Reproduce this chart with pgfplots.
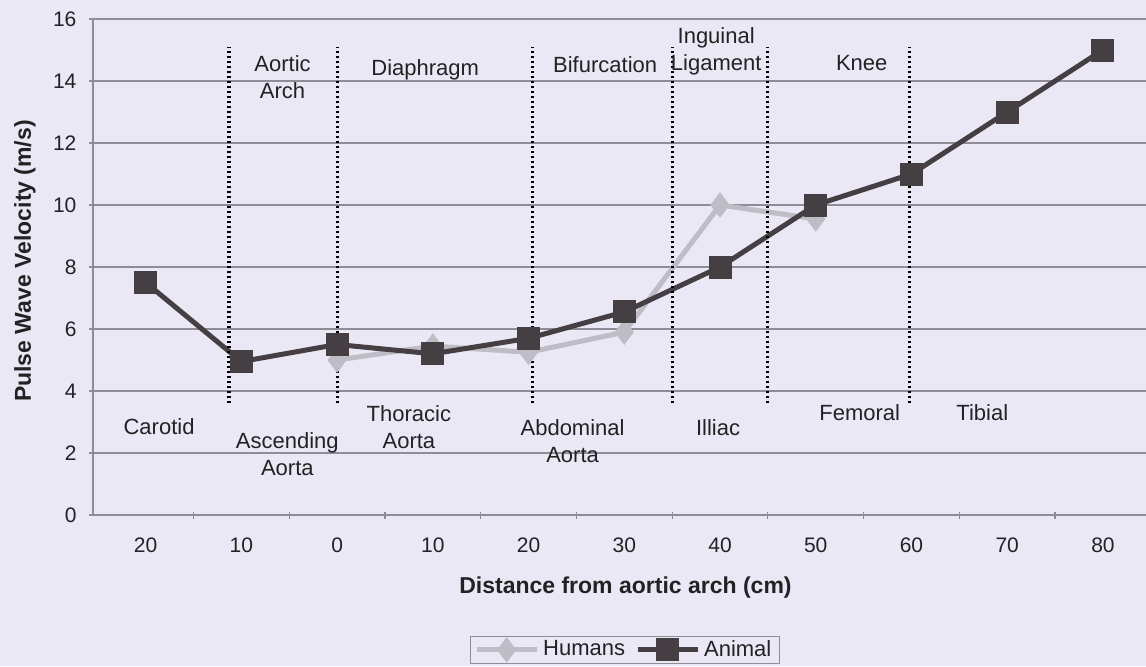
\documentclass[border=0pt]{standalone}
\usepackage{fontspec}
\setmainfont{Liberation Sans}
\usepackage{pgfplots}
\pgfplotsset{compat=1.18}
\definecolor{pagebg}{HTML}{E9E8F4}
\definecolor{gridc}{HTML}{8E8C95}
\definecolor{animalc}{HTML}{453E42}
\definecolor{humanc}{HTML}{BEBDC5}
\definecolor{txtc}{HTML}{232123}

\begin{document}
\begin{tikzpicture}
  % page background and fixed bounding box (1px = 0.5pt)
  \path[use as bounding box, fill=pagebg] (-46.5pt,-75.5pt) rectangle (526.5pt,257.5pt);
  \begin{axis}[
      scale only axis,
      width=526.5pt, height=248pt,
      xmin=-0.55, xmax=10.45,
      ymin=0, ymax=16,
      xtick={0,...,10},
      xticklabels={20,10,0,10,20,30,40,50,60,70,80},
      major x tick style={draw=none},
      minor xtick={0.5,1.5,...,9.5},
      ytick={0,2,...,16},
      tick align=outside,
      major tick length=3.5pt, minor tick length=3.5pt,
      tick style={gridc, line width=0.6pt},
      axis lines=left,
      axis line style={-, gridc, line width=0.8pt},
      ymajorgrids=true,
      major grid style={gridc, line width=0.6pt},
      clip=false,
      font=\fontsize{10.5}{12.5}\selectfont,
      /pgf/number format/assume math mode=true,
      ticklabel style={txtc},
      xticklabel style={yshift=-6pt},
      yticklabel style={xshift=-3pt},
      xlabel={\textbf{Distance from aortic arch (cm)}},
      ylabel={\textbf{Pulse Wave Velocity (m/s)}},
      label style={txtc, font=\fontsize{11.5}{13.5}\selectfont},
      xlabel style={at={(axis description cs:0.5,0)}, anchor=center,
                    yshift=-36.5pt, xshift=3pt},
      ylabel style={at={(axis description cs:0,0.5)}, anchor=center,
                    yshift=34pt, xshift=3pt},
      legend columns=2,
      legend style={at={(0.505,-0.244)}, anchor=north, draw=gridc, fill=pagebg,
        font=\fontsize{11}{12}\selectfont, text=txtc, inner xsep=2pt, inner ysep=0.5pt,
        nodes={inner ysep=1.5pt},
        /tikz/every even column/.append style={column sep=3pt}},
      legend image code/.code={%
        \draw[mark repeat=2, mark phase=2, #1] plot coordinates {(0pt,0pt) (15pt,0pt) (30pt,0pt)};},
    ]
    \addplot[humanc, line width=2.5pt, mark=diamond*, mark size=6pt,
             mark options={solid, fill=humanc, draw=humanc, line width=0.5pt}]
      coordinates {(2,5.0) (3,5.45) (4,5.25) (5,5.9) (6,10.0) (7,9.55)};
    \addlegendentry{Humans}
    \addplot[animalc, line width=2.5pt, mark=square*, mark size=5.5pt,
             mark options={solid, fill=animalc, draw=animalc, line width=0.5pt}]
      coordinates {(0,7.5) (1,4.95) (2,5.5) (3,5.2) (4,5.7) (5,6.55)
                   (6,8.0) (7,10.0) (8,11.0) (9,13.0) (10,15.0)};
    \addlegendentry{Animal}

    % region dividers
    \pgfplotsinvokeforeach{0.87,2.0,4.04,5.5,6.5,7.98}{
      \addplot[black, line width=1.6pt, dash pattern=on 1.4pt off 1.1pt, forget plot]
        coordinates {(#1,3.6) (#1,15.1)};
    }

    \begin{scope}[every node/.style={txtc, font=\fontsize{11}{13.5}\selectfont, align=center}]
      \node at (axis cs:1.43,14.12) {Aortic\\Arch};
      \node at (axis cs:2.92,14.35) {Diaphragm};
      \node at (axis cs:4.80,14.52) {Bifurcation};
      \node at (axis cs:5.96,14.97) {Inguinal\\Ligament};
      \node at (axis cs:7.48,14.58) {Knee};
      \node at (axis cs:0.14,2.84) {Carotid};
      \node at (axis cs:1.48,1.95) {Ascending\\Aorta};
      \node at (axis cs:2.75,2.85) {Thoracic\\Aorta};
      \node at (axis cs:4.46,2.38) {Abdominal\\Aorta};
      \node at (axis cs:5.98,2.81) {Illiac};
      \node at (axis cs:7.46,3.30) {Femoral};
      \node at (axis cs:8.74,3.30) {Tibial};
    \end{scope}
  \end{axis}
\end{tikzpicture}
\end{document}
